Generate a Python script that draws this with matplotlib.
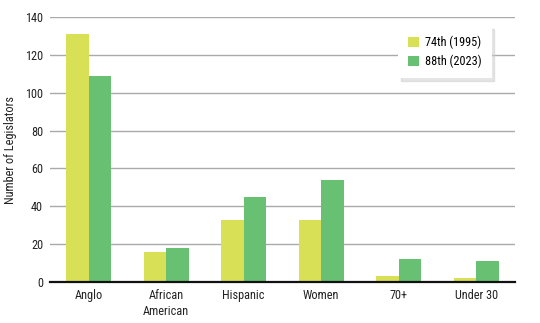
import matplotlib
matplotlib.use("Agg")
import matplotlib.pyplot as plt
from matplotlib import font_manager
import numpy as np

categories = ["Anglo", "African\nAmerican", "Hispanic", "Women", "70+", "Under 30"]
leg_1995 = [131, 16, 33, 33, 3, 2]
leg_2023 = [109, 18, 45, 54, 12, 11]
series_names = ["74th (1995)", "88th (2023)"]

names = {f.name for f in font_manager.fontManager.ttflist}
fam = [n for n in ["Liberation Sans Narrow", "DejaVu Sans Condensed", "Roboto Condensed", "Roboto"] if n in names]
plt.rcParams['font.family'] = fam + ['DejaVu Sans']

fig = plt.figure(figsize=(5.4, 3.23), dpi=100)
ax = fig.add_axes([0.0926, 0.127, 0.861, 0.82])

x = np.arange(len(categories))
w = 0.29
ax.bar(x - w / 2, leg_1995, w, color="#d8e055", label=series_names[0], zorder=3)
ax.bar(x + w / 2, leg_2023, w, color="#68c073", label=series_names[1], zorder=3)

ax.set_xlim(-0.5, len(categories) - 0.5)
ax.set_ylim(0, 140)
ax.set_yticks(range(0, 141, 20))
ax.set_xticks(x)
ax.set_xticklabels(categories, fontsize=8.8, color="#222222", linespacing=1.3)
ax.tick_params(axis="y", labelsize=8.8, labelcolor="#222222", length=0, pad=5)
ax.tick_params(axis="x", length=0, pad=5)
ax.yaxis.grid(True, color="#aaaaaa", linewidth=1)
ax.set_axisbelow(True)
for s in ["top", "right", "left"]:
    ax.spines[s].set_visible(False)
ax.spines["bottom"].set_color("#111111")
ax.spines["bottom"].set_linewidth(1.6)
ax.spines["bottom"].set_zorder(4)
ax.set_ylabel("Number of Legislators", fontsize=8.8, color="#222222", labelpad=6)

leg = ax.legend(loc="upper right", bbox_to_anchor=(0.95, 0.966), fontsize=8.8,
                frameon=True, fancybox=False,
                shadow={"color": "0.8", "alpha": 0.5},
                edgecolor="none", framealpha=1,
                handlelength=0.9, handleheight=0.9, handletextpad=0.5,
                borderpad=0.8, labelspacing=0.45, borderaxespad=0)
leg.get_frame().set_facecolor("white")

fig.savefig("out.png", dpi=100)
